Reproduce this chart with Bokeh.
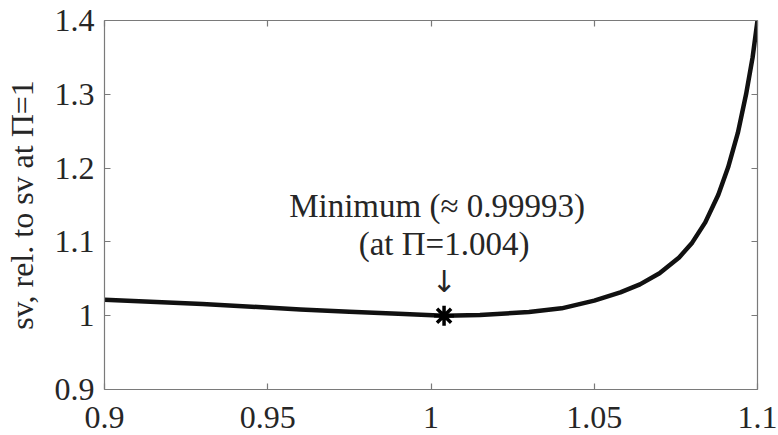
from bokeh.plotting import figure
from bokeh.models import LinearAxis, FixedTicker, Range1d, ColumnDataSource
from bokeh.core.properties import value
from bokeh.embed import file_html
from bokeh.resources import INLINE

# ---- data ----
pi_vals = [0.900, 0.930, 0.960, 0.975, 0.990, 1.004, 1.015, 1.030, 1.040, 1.050,
           1.058, 1.064, 1.070, 1.076, 1.080, 1.084, 1.088, 1.091, 1.094, 1.0965,
           1.0985, 1.100]
sv_rel = [1.0215, 1.0160, 1.0085, 1.0052, 1.0025, 0.99993, 1.0010, 1.0050, 1.0100, 1.0205,
          1.0315, 1.0425, 1.0575, 1.0790, 1.0990, 1.1265, 1.1640, 1.2010, 1.2480, 1.3000,
          1.3500, 1.4000]
min_pi = [1.004]
min_sv = [0.99993]

x_ticks = [0.9, 0.95, 1.0, 1.05, 1.1]
x_tick_labels = ["0.9", "0.95", "1", "1.05", "1.1"]
y_ticks = [0.9, 1.0, 1.1, 1.2, 1.3, 1.4]
y_tick_labels = ["0.9", "1", "1.1", "1.2", "1.3", "1.4"]

note_text = ["Minimum (\u2248 0.99993)", "(at \u03a0=1.004)"]
note_x = [1.004, 1.004]
note_y = [1.149, 1.097]
note_dx = [-7, 0]

arrow_text = ["\u2193"]
arrow_x = [1.004]
arrow_y = [1.0463]

y_label = "sv, rel. to sv at \u03a0=1"

FONT = "Liberation Serif"
FS = "32px"
AX_COL = "#7a7a7a"
TXT_COL = "#262626"

p = figure(width=778, height=435, output_backend="svg", toolbar_location=None,
           x_range=Range1d(0.9, 1.1), y_range=Range1d(0.9, 1.4),
           min_border_left=103, min_border_right=21, min_border_top=20,
           min_border_bottom=46, background_fill_color="white",
           border_fill_color="white")
p.grid.visible = False
p.outline_line_color = None

def style_axis(ax, ticks, labels, show_labels=True):
    ax.ticker = FixedTicker(ticks=ticks)
    ax.axis_line_color = AX_COL
    ax.axis_line_width = 1.2
    ax.major_tick_line_color = AX_COL
    ax.major_tick_line_width = 1.2
    ax.major_tick_in = 6
    ax.major_tick_out = 0
    ax.minor_tick_line_color = None
    ax.major_label_text_font = FONT
    if show_labels:
        ax.major_label_overrides = {t: l for t, l in zip(ticks, labels)}
        ax.major_label_text_color = TXT_COL
        ax.major_label_text_font_size = FS
        ax.major_label_standoff = 10
    else:
        ax.major_label_text_color = None
        ax.major_label_text_font_size = "1px"
        ax.major_label_standoff = 0

style_axis(p.xaxis[0], x_ticks, x_tick_labels)
p.xaxis[0].major_label_standoff = 17
style_axis(p.yaxis[0], y_ticks, y_tick_labels)
p.yaxis[0].axis_label = y_label
p.yaxis[0].axis_label_text_font = FONT
p.yaxis[0].axis_label_text_font_size = FS
p.yaxis[0].axis_label_text_font_style = "normal"
p.yaxis[0].axis_label_text_color = TXT_COL
p.yaxis[0].axis_label_standoff = 12

top_ax = LinearAxis()
style_axis(top_ax, x_ticks, x_tick_labels, show_labels=False)
p.add_layout(top_ax, "above")
right_ax = LinearAxis()
style_axis(right_ax, y_ticks, y_tick_labels, show_labels=False)
p.add_layout(right_ax, "right")

p.line(pi_vals, sv_rel, line_color="#111111", line_width=4.5, line_join="round")
p.scatter(min_pi, min_sv, marker="asterisk", size=20, line_color="black", line_width=3.5)

src = ColumnDataSource(dict(x=note_x, y=note_y, t=note_text, dx=note_dx))
p.text(x="x", y="y", text="t", x_offset="dx", source=src, text_font=value(FONT),
       text_font_size="33px", text_color=TXT_COL, text_align="center",
       text_baseline="alphabetic")
p.text(x=arrow_x, y=arrow_y, text=arrow_text, text_font=value("DejaVu Sans"),
       text_font_size="30px", text_color=TXT_COL, text_align="center",
       text_baseline="alphabetic")

open("out.html", "w").write(file_html(p, INLINE))
